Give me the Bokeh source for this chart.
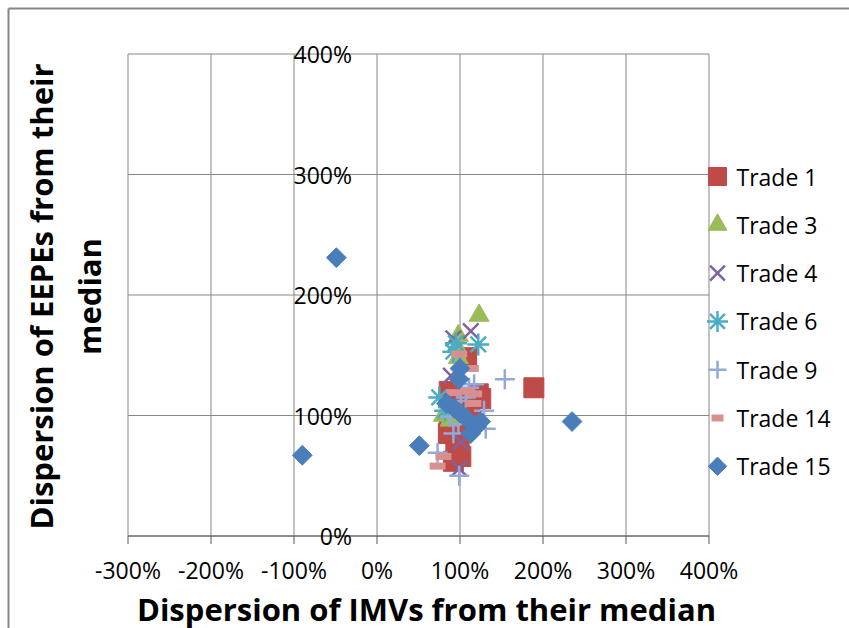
import math

from bokeh.core.properties import value
from bokeh.embed import file_html
from bokeh.models import ColumnDataSource, Label, Range1d
from bokeh.plotting import figure
from bokeh.resources import INLINE

# Axis ticks (values are percentages)
x_ticks = [-300, -200, -100, 0, 100, 200, 300, 400]
x_tick_labels = ["-300%", "-200%", "-100%", "0%", "100%", "200%", "300%", "400%"]
y_ticks = [0, 100, 200, 300, 400]
y_tick_labels = ["0%", "100%", "200%", "300%", "400%"]

# Dispersion of IMVs (x) and EEPEs (y) from their medians, in %
trade1_x = [108, 122, 87, 95, 125, 87, 86, 99, 107, 95, 92, 101, 189, 112, 90]
trade1_y = [148, 118, 120, 112, 114, 95, 85, 80, 91, 72, 62, 66, 123, 105, 104]

trade3_x = [123, 98, 98, 96, 80, 88]
trade3_y = [183, 166, 148, 157, 100, 96]

trade4_x = [113, 92, 99, 89, 101]
trade4_y = [170, 164, 56, 133, 78]

trade6_x = [122, 95, 92, 75, 82]
trade6_y = [159, 160, 153, 115, 104]

trade9_x = [154, 117, 111, 107, 129, 101, 98, 131, 92, 73, 99, 88]
trade9_y = [130, 126, 123, 115, 104, 112, 93, 89, 85, 69, 50, 99]

trade14_x = [99, 113, 93, 117, 116, 80, 73, 108]
trade14_y = [151, 139, 119, 118, 110, 66, 58, 120]

trade15_x = [-49, -90, 51, 235, 100, 99, 84, 93, 100, 107, 125, 119, 113]
trade15_y = [231, 67, 75, 95, 139, 130, 110, 106, 102, 98, 95, 90, 85]

series_names = ["Trade 1", "Trade 3", "Trade 4", "Trade 6", "Trade 9", "Trade 14", "Trade 15"]
series_x = [trade1_x, trade3_x, trade4_x, trade6_x, trade9_x, trade14_x, trade15_x]
series_y = [trade1_y, trade3_y, trade4_y, trade6_y, trade9_y, trade14_y, trade15_y]

# Marker styling per series: (style, plot size, legend key size)
styles = [
    (dict(marker="square", fill_color="#BE4B48", line_color="#BE4B48", line_width=1), 20, 18),
    (dict(marker="triangle", fill_color="#9BBB59", line_color="#9BBB59", line_width=1), 20, 19),
    (dict(marker="x", fill_color=None, line_color="#7F63A1", line_width=2.5), 22, 21),
    (dict(marker="asterisk", fill_color=None, line_color="#4BACC6", line_width=2.5), 22, 21),
    (dict(marker="cross", fill_color=None, line_color="#93A9D8", line_width=2.5), 20, 18),
    (dict(marker="dash", fill_color=None, line_color="#D8908F", line_width=7), 16, 12),
    (dict(marker="square", angle=math.pi / 4, fill_color="#4A7EBB", line_color="#4A7EBB",
          line_width=1), 14, 13),
]

FONT = "Open Sans"
GRID = "#868686"
AXIS = "#595959"

# Page and plot-area geometry (pixels)
W, H = 849, 628
AREA_L, AREA_R, AREA_T, AREA_B = 127.5, 708.5, 53.5, 535.5
XMIN, XMAX, YMIN, YMAX = x_ticks[0], x_ticks[-1], y_ticks[0], y_ticks[-1]
kx = (XMAX - XMIN) / (AREA_R - AREA_L)   # data units per pixel
ky = (YMAX - YMIN) / (AREA_B - AREA_T)
X_START = XMIN - AREA_L * kx
Y_END = YMAX + AREA_T * ky


def px_x(px):
    return X_START + px * kx


def px_y(py):
    return Y_END - py * ky


p = figure(
    width=W, height=H, min_border=0,
    x_range=Range1d(X_START, XMAX + (W - AREA_R) * kx),
    y_range=Range1d(YMIN - (H - AREA_B) * ky, Y_END),
    x_axis_type=None, y_axis_type=None,
    output_backend="svg", toolbar_location=None,
    background_fill_color="white", border_fill_color="white",
)
p.outline_line_color = None
p.grid.visible = False

# Chart area border (left and top edges)
p.segment(x0=[px_x(8), px_x(8)], y0=[px_y(8), px_y(8)], x1=[px_x(8), px_x(W + 10)],
          y1=[px_y(H + 10), px_y(8)], line_color=GRID, line_width=2)

# Gridlines every 100%
nx, ny = len(x_ticks), len(y_ticks)
p.segment(x0=x_ticks, y0=[YMIN] * nx, x1=x_ticks, y1=[YMAX] * nx, line_color=GRID, line_width=1)
p.segment(x0=[XMIN] * ny, y0=y_ticks, x1=[XMAX] * ny, y1=y_ticks, line_color=GRID, line_width=1)

# Horizontal axis along y = 0 with outside tick marks
p.segment(x0=[XMIN], y0=[YMIN], x1=[XMAX], y1=[YMIN], line_color=AXIS, line_width=1)
p.segment(x0=x_ticks, y0=[YMIN] * nx, x1=x_ticks, y1=[YMIN - 8 * ky] * nx,
          line_color=AXIS, line_width=1)
p.text(x=x_ticks, y=[YMIN] * nx, text=x_tick_labels, y_offset=18,
       text_align="center", text_baseline="top",
       text_font=value(FONT), text_font_size="23px", text_color="black")

# Vertical axis crosses at x = 0, labels just left of it
p.text(x=[0] * ny, y=y_ticks, text=y_tick_labels, x_offset=-25,
       text_align="right", text_baseline="middle",
       text_font=value(FONT), text_font_size="23px", text_color="black")

# Data series
for xs, ys, (st, size, _) in zip(series_x, series_y, styles):
    p.scatter("x", "y", source=ColumnDataSource(dict(x=xs, y=ys)), size=size, **st)

# Legend to the right of the plot area
KEY_X, TEXT_X, ROW0, ROW_STEP = 717, 736, 176, 48.3
for i, (name, (st, _, key_size)) in enumerate(zip(series_names, styles)):
    ry = px_y(ROW0 + i * ROW_STEP)
    p.scatter(x=[px_x(KEY_X)], y=[ry], size=key_size, **st)
    p.text(x=[px_x(TEXT_X)], y=[ry], text=[name], text_align="left", text_baseline="middle",
           text_font=value(FONT), text_font_size="23px", text_color="black")

# Axis titles
p.add_layout(Label(x=426, y=20, x_units="screen", y_units="screen",
                   text="Dispersion of IMVs from their median",
                   text_align="center", text_baseline="middle", text_font=FONT,
                   text_font_style="bold", text_font_size="31px", text_color="black"))
p.add_layout(Label(x=40, y=332, x_units="screen", y_units="screen", angle=math.pi / 2,
                   text="Dispersion of EEPEs from their",
                   text_align="center", text_baseline="middle", text_font=FONT,
                   text_font_style="bold", text_font_size="31px", text_color="black"))
p.add_layout(Label(x=88, y=332, x_units="screen", y_units="screen", angle=math.pi / 2,
                   text="median",
                   text_align="center", text_baseline="middle", text_font=FONT,
                   text_font_style="bold", text_font_size="31px", text_color="black"))

open("out.html", "w").write(file_html(p, INLINE))
